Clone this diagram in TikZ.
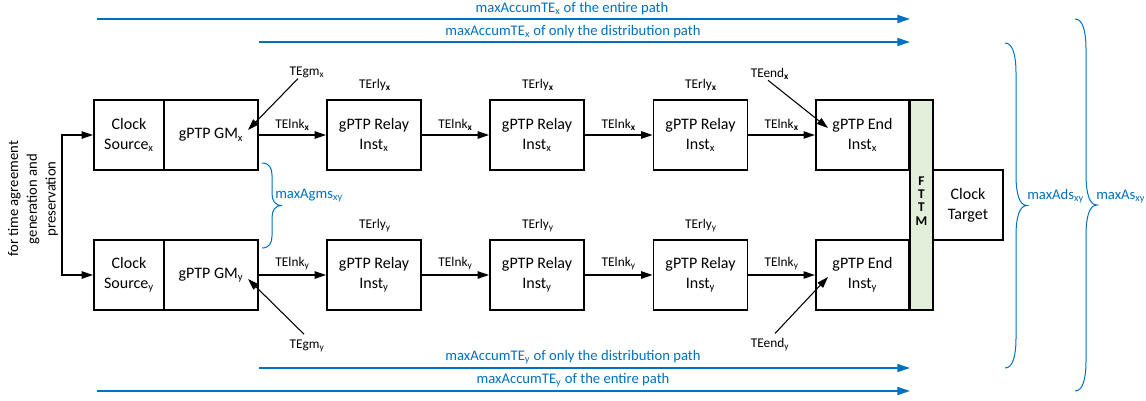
\documentclass[tikz,border=0pt]{standalone}
\usepackage{fontspec}
\setmainfont{Carlito}
\usetikzlibrary{arrows.meta,calc}
\definecolor{vblue}{RGB}{0,112,192}
\definecolor{fttmgreen}{RGB}{226,239,218}
\newcommand\sub[1]{\textsubscript{#1}}
% right-pointing curly brace: x, ytop, ybottom, half-depth, curve length
\newcommand\mybrace[5]{%
  \pgfmathsetmacro\mybm{(#2+#3)/2}%
  \draw[brc] (#1,#2) .. controls ({#1+0.7*#4},#2) and ({#1+#4},{#2+0.4*#5}) .. ({#1+#4},{#2+#5})
    -- ({#1+#4},{\mybm-#5}) .. controls ({#1+#4},{\mybm-0.4*#5}) and ({#1+1.3*#4},\mybm) .. ({#1+2*#4},\mybm)
    .. controls ({#1+1.3*#4},\mybm) and ({#1+#4},{\mybm+0.4*#5}) .. ({#1+#4},{\mybm+#5})
    -- ({#1+#4},{#3-#5}) .. controls ({#1+#4},{#3-0.4*#5}) and ({#1+0.7*#4},#3) .. (#1,#3);}
\begin{document}
\begin{tikzpicture}[x=0.75pt,y=-0.75pt,
  box/.style={draw,line width=1.4pt,inner sep=0pt,align=center,
    font=\fontsize{12}{15}\selectfont,minimum height=52.5pt},
  lbl/.style={font=\fontsize{10}{12}\selectfont,inner sep=0pt},
  bluetxt/.style={font=\fontsize{11}{13}\selectfont,text=vblue,inner sep=0pt},
  link/.style={line width=1pt,-{Triangle[length=8.5pt,width=5.5pt]}},
  diag/.style={line width=0.8pt,-{Triangle[length=8.5pt,width=5.5pt]}},
  bluearr/.style={draw=vblue,line width=1.3pt,-{Triangle[length=9.5pt,width=6pt]}},
  brc/.style={draw=vblue,line width=0.75pt},
]
\useasboundingbox (0,0) rectangle (1146,400);

% ---- row x
\node[box,minimum width=52.5pt] (csx) at (129,135) {Clock\\Source\sub{x}};
\node[box,minimum width=70.5pt] (gmx) at (211,135) {gPTP GM\sub{x}};
\node[box,minimum width=70.5pt] (r1x) at (374,135) {gPTP Relay\\Inst\sub{x}};
\node[box,minimum width=70.5pt] (r2x) at (537,135) {gPTP Relay\\Inst\sub{x}};
\node[box,minimum width=70.5pt] (r3x) at (700.5,135) {gPTP Relay\\Inst\sub{x}};
\node[box,minimum width=70pt] (endx) at (862.5,135) {gPTP End\\Inst\sub{x}};
% ---- row y
\node[box,minimum width=52.5pt] (csy) at (129,275) {Clock\\Source\sub{y}};
\node[box,minimum width=70.5pt] (gmy) at (211,275) {gPTP GM\sub{y}};
\node[box,minimum width=70.5pt] (r1y) at (374,275) {gPTP Relay\\Inst\sub{y}};
\node[box,minimum width=70.5pt] (r2y) at (537,275) {gPTP Relay\\Inst\sub{y}};
\node[box,minimum width=70.5pt] (r3y) at (700.5,275) {gPTP Relay\\Inst\sub{y}};
\node[box,minimum width=70pt] (endy) at (862.5,275) {gPTP End\\Inst\sub{y}};
% ---- target and FTTM
\node[box,minimum width=52.5pt] (tgt) at (968,205) {Clock\\Target};
\node[draw,line width=1.4pt,fill=fttmgreen,minimum width=17.25pt,minimum height=157.5pt,
  inner sep=0pt] (fttm) at (921.5,205) {};
\node[align=center,inner sep=0pt,font=\fontsize{10}{10}\selectfont\bfseries] (fttmtxt) at (921.5,201) {F\\T\\T\\M};

% ---- links
\draw[link] (gmx) -- (r1x);
\draw[link] (r1x) -- (r2x);
\draw[link] (r2x) -- (r3x);
\draw[link] (r3x) -- (endx);
\draw[link] (gmy) -- (r1y);
\draw[link] (r1y) -- (r2y);
\draw[link] (r2y) -- (r3y);
\draw[link] (r3y) -- (endy);
\node[lbl,anchor=base] (l1x) at ($(gmx.east)!0.5!(r1x.west)+(0,-7)$) {TElnk\sub{\textbf{x}}};
\node[lbl,anchor=base] (l2x) at ($(r1x.east)!0.5!(r2x.west)+(0,-7)$) {TElnk\sub{\textbf{x}}};
\node[lbl,anchor=base] (l3x) at ($(r2x.east)!0.5!(r3x.west)+(0,-7)$) {TElnk\sub{\textbf{x}}};
\node[lbl,anchor=base] (l4x) at ($(r3x.east)!0.5!(endx.west)+(0,-7)$) {TElnk\sub{\textbf{x}}};
\node[lbl,anchor=base] (l1y) at ($(gmy.east)!0.5!(r1y.west)+(0,-9)$) {TElnk\sub{y}};
\node[lbl,anchor=base] (l2y) at ($(r1y.east)!0.5!(r2y.west)+(0,-9)$) {TElnk\sub{y}};
\node[lbl,anchor=base] (l3y) at ($(r2y.east)!0.5!(r3y.west)+(0,-9)$) {TElnk\sub{y}};
\node[lbl,anchor=base] (l4y) at ($(r3y.east)!0.5!(endy.west)+(0,-9)$) {TElnk\sub{y}};

% ---- relay labels
\node[lbl,anchor=base] (e1x) at (375,88) {TErly\sub{\textbf{x}}};
\node[lbl,anchor=base] (e2x) at (538,88) {TErly\sub{\textbf{x}}};
\node[lbl,anchor=base] (e3x) at (701,88) {TErly\sub{\textbf{x}}};
\node[lbl,anchor=base] (e1y) at (375,228) {TErly\sub{y}};
\node[lbl,anchor=base] (e2y) at (538,228) {TErly\sub{y}};
\node[lbl,anchor=base] (e3y) at (701,228) {TErly\sub{y}};

% ---- GM and End error inputs
\node[lbl,anchor=base] (tegmx) at (307,75) {TEgm\sub{x}};
\node[lbl,anchor=base] (tegmy) at (307,348) {TEgm\sub{y}};
\node[lbl,anchor=base] (teendx) at (770,77) {TEend\sub{\textbf{x}}};
\node[lbl,anchor=base] (teendy) at (770,347) {TEend\sub{y}};
\coordinate (gmxin) at (248,130);
\coordinate (gmyin) at (248,279);
\coordinate (endxin) at (828,128);
\coordinate (endyin) at (828,277);
\draw[diag] ($(tegmx.south)+(-9,1)$) -- (gmxin);
\draw[diag] ($(tegmy.north)+(-3,-5)$) -- (gmyin);
\draw[diag] ($(teendx.south)+(-2,1)$) -- (endxin);
\draw[diag] ($(teendy.north)+(5,-4)$) -- (endyin);

% ---- left feed
\coordinate (lb) at (62,205);
\draw[link] (lb) |- (csx);
\draw[link] (lb) |- (csy);
\node[font=\fontsize{11}{14}\selectfont,rotate=90,align=center,inner sep=0pt] (purpose) at (33,199)
  {for time agreement\\generation and\\preservation};

% ---- accumulated error spans
\coordinate (a1s) at (97,19);  \coordinate (a1e) at (910,19);
\coordinate (a2s) at (259,42); \coordinate (a2e) at (910,42);
\coordinate (a3s) at (259,368); \coordinate (a3e) at (910,368);
\coordinate (a4s) at (97,391); \coordinate (a4e) at (910,391);
\draw[bluearr] (a1s) -- (a1e);
\draw[bluearr] (a2s) -- (a2e);
\draw[bluearr] (a3s) -- (a3e);
\draw[bluearr] (a4s) -- (a4e);
\node[bluetxt,anchor=base] (t1) at (572,12) {maxAccumTE\sub{x} of the entire path};
\node[bluetxt,anchor=base] (t2) at (573,35) {maxAccumTE\sub{x} of only the distribution path};
\node[bluetxt,anchor=base] (t3) at (573,360) {maxAccumTE\sub{y} of only the distribution path};
\node[bluetxt,anchor=base] (t4) at (573,383) {maxAccumTE\sub{y} of the entire path};

% ---- braces
\mybrace{262}{163}{248}{10}{12}
\node[bluetxt,anchor=base west] (agms) at (275,198) {maxAgms\sub{xy}};
\mybrace{1005}{43}{368}{11}{30}
\node[bluetxt,anchor=base west] (ads) at (1027,199) {maxAds\sub{xy}};
\mybrace{1075}{19}{391}{11}{30}
\node[bluetxt,anchor=base west] (as) at (1096,199) {maxAs\sub{xy}};
\end{tikzpicture}
\end{document}
